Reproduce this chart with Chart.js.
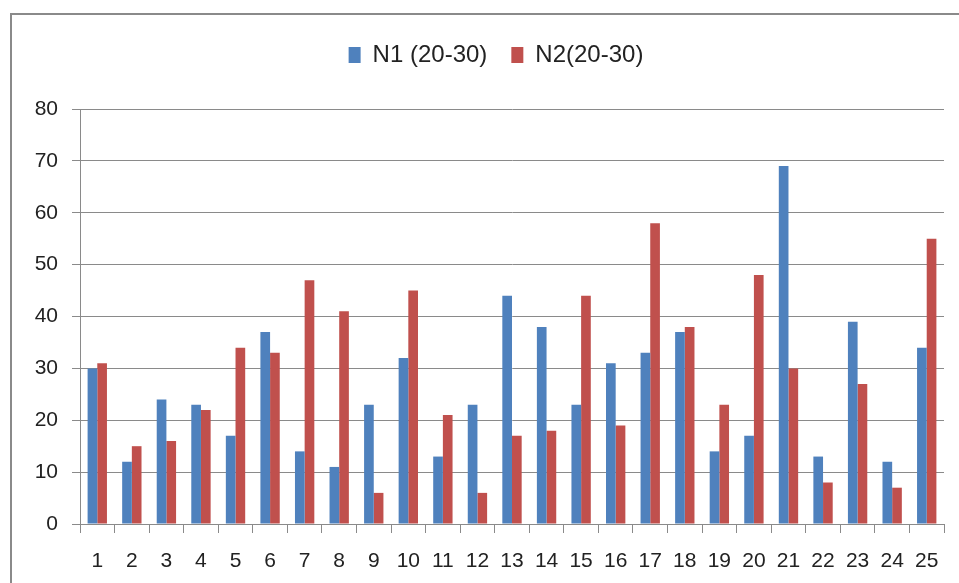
<!DOCTYPE html>
<html>
<head>
<meta charset="utf-8">
<script src="https://cdn.jsdelivr.net/npm/chart.js@4/dist/chart.umd.min.js"></script>
<style>
  html, body { margin: 0; padding: 0; background: #fff; }
  body { width: 959px; height: 583px; position: relative; overflow: hidden; }
  #frame { position: absolute; left: 10px; top: 13px; width: 1000px; height: 700px;
           border: 2px solid #8a8a8a; box-sizing: border-box; }
  #wrap { position: absolute; left: 0; top: 0; width: 959px; height: 583px; }
</style>
</head>
<body>
<div id="frame"></div>
<div id="wrap"><canvas id="chart"></canvas></div>
<script>
// Paired bars, 25 samples, two series
const categories = ['1','2','3','4','5','6','7','8','9','10','11','12','13',
  '14','15','16','17','18','19','20','21','22','23','24','25'];
const n1Values = [30, 12, 24, 23, 17, 37, 14, 11, 23, 32, 13, 23, 44,
  38, 23, 31, 33, 37, 14, 17, 69, 13, 39, 12, 34];
const n2Values = [31, 15, 16, 22, 34, 33, 47, 41, 6, 45, 21, 6, 17,
  18, 44, 19, 58, 38, 23, 48, 30, 8, 27, 7, 55];
const seriesNames = ['N1 (20-30)', 'N2(20-30)'];

const FONT = '"Liberation Sans", Arial, sans-serif';
const GRID = '#8a8a8a';

// legend sits a bit right of the canvas centre in the original
const legendShift = {
  id: 'legendShift',
  afterLayout(chart) {
    chart.legend.left += 19;
    chart.legend.right += 19;
  }
};

new Chart(document.getElementById('chart'), {
  type: 'bar',
  data: {
    labels: categories,
    datasets: [
      { label: seriesNames[0], data: n1Values, backgroundColor: '#4F81BD', borderWidth: 0 },
      { label: seriesNames[1], data: n2Values, backgroundColor: '#C0504D', borderWidth: 0 }
    ]
  },
  options: {
    responsive: true,
    maintainAspectRatio: false,
    animation: false,
    categoryPercentage: 0.56,
    barPercentage: 1.0,
    layout: { padding: { left: 10, right: 15, top: 19, bottom: 0 } },
    plugins: {
      tooltip: { enabled: false },
      legend: {
        position: 'top',
        labels: {
          font: { family: FONT, size: 24 },
          color: '#222',
          boxWidth: 12,
          boxHeight: 16,
          padding: 24
        }
      },
      // empty spacer between legend and plot
      title: {
        display: true,
        text: ' ',
        weight: 500,
        font: { size: 10, lineHeight: 1 },
        padding: { top: 0, bottom: 22 }
      }
    },
    scales: {
      x: {
        grid: { drawOnChartArea: false, drawTicks: true, tickLength: 9, color: GRID, offset: true },
        border: { color: GRID, width: 1 },
        ticks: { font: { family: FONT, size: 21 }, color: '#222', padding: 16, maxRotation: 0, autoSkip: false },
        afterFit: s => { s.height = 59; }
      },
      y: {
        min: 0,
        max: 80,
        grid: { color: GRID, tickLength: 8 },
        border: { color: GRID, width: 1 },
        ticks: { stepSize: 10, font: { family: FONT, size: 21 }, color: '#222', padding: 14 },
        afterFit: s => { s.width = 70; }
      }
    }
  },
  plugins: [legendShift]
});
</script>
</body>
</html>
